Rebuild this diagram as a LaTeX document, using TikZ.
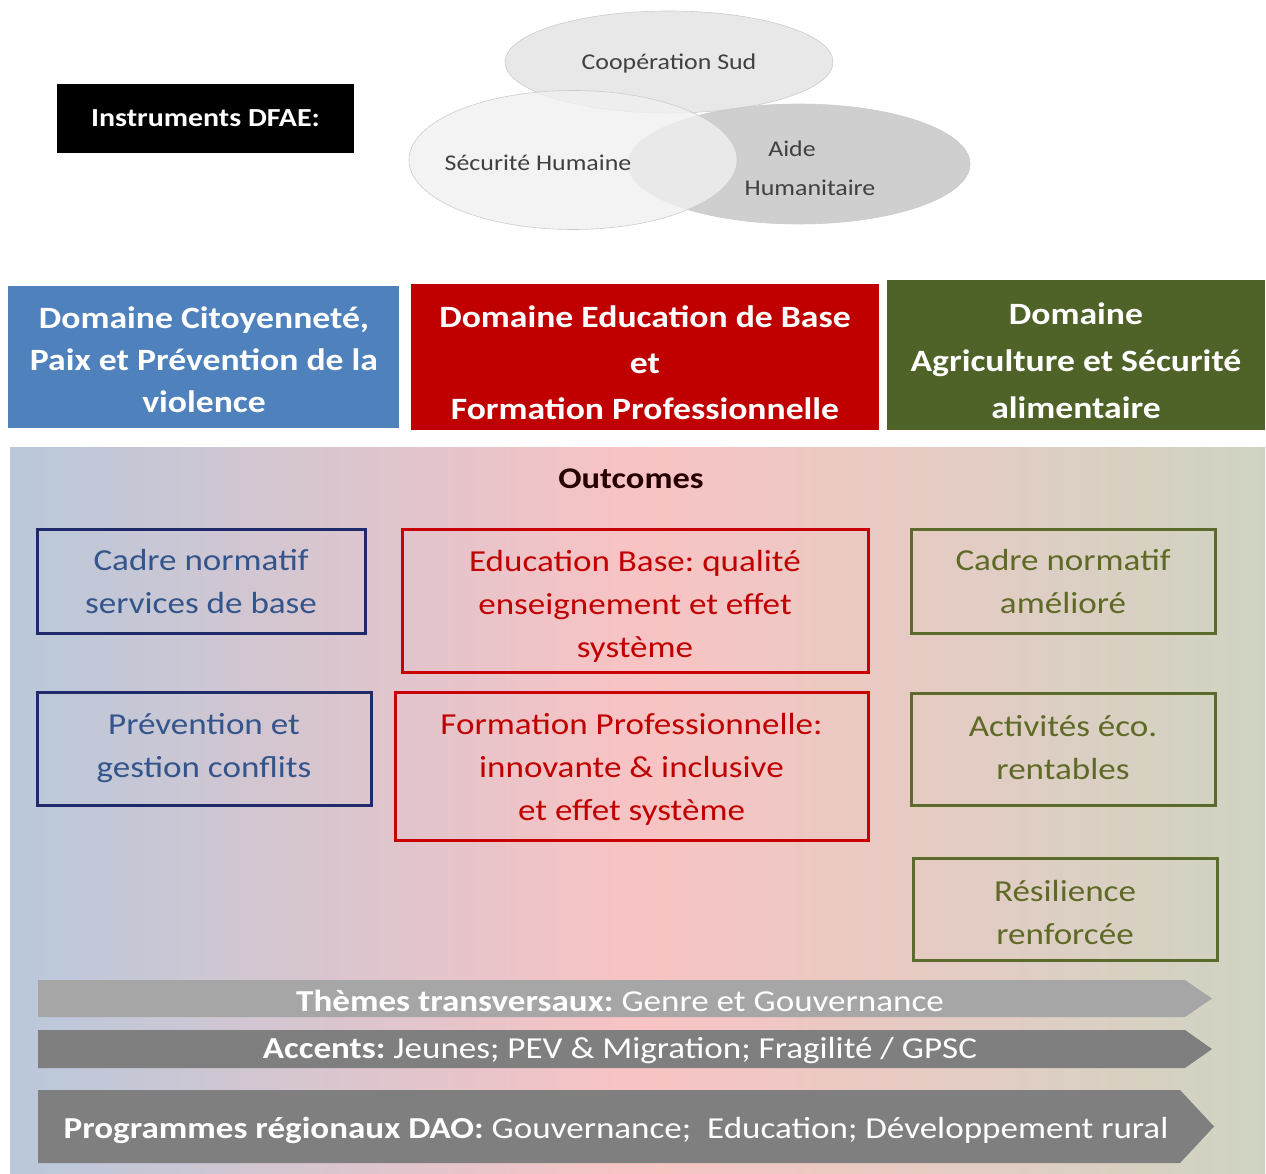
\documentclass[tikz,border=0pt]{standalone}
\usepackage{fontspec}
\setmainfont{Carlito}[FakeStretch=1.15]
\usetikzlibrary{shapes.geometric}
\frenchspacing
\definecolor{bgL}{HTML}{B9C8DA}
\definecolor{bgM}{HTML}{F9C3C4}
\definecolor{bgR}{HTML}{CFD4C2}
\definecolor{dblue}{HTML}{4F81BD}
\definecolor{dred}{HTML}{C00000}
\definecolor{dgreen}{HTML}{4F6228}
\definecolor{oblue}{HTML}{1F2A6B}
\definecolor{oblueT}{HTML}{34558B}
\definecolor{ored}{HTML}{C80000}
\definecolor{ogreen}{HTML}{5B6B2B}
\definecolor{ogreenT}{HTML}{5E6A26}
\definecolor{arrL}{HTML}{A6A6A6}
\definecolor{arrD}{HTML}{7F7F7F}
\tikzset{
  domtext/.style={text=white, font=\fontsize{31}{42}\selectfont\bfseries, align=center, inner sep=0},
  outbox/.style={draw, line width=3pt, inner sep=0, outer sep=0},
  outtext/.style={font=\fontsize{30.5}{43}\selectfont, align=center, inner sep=0},
  ell/.style={ellipse, inner sep=0, draw=black!20, line width=0.6pt},
  elltext/.style={font=\fontsize{22.5}{38}\selectfont, text=black!75, align=center, inner sep=0},
  arrtext/.style={font=\fontsize{30.5}{36}\selectfont, text=white, inner sep=0}
}
\begin{document}
\begin{tikzpicture}[x=1pt,y=-1pt]
\useasboundingbox (0,0) rectangle (1266,1174);
\fill[white] (0,0) rectangle (1266,1174);
% Instruments
\node[fill=black, minimum width=297pt, minimum height=69pt, inner sep=0, text=white,
  font=\fontsize{26}{30}\selectfont\bfseries] (instr) at (205.5,118.5) {Instruments DFAE:};
% ellipses
\node[ell, fill=black!9, minimum width=328pt, minimum height=102pt] (coop) at (669,62) {};
\node[ell, fill=black!22, fill opacity=0.85, minimum width=342pt, minimum height=120pt] (aide) at (799,164) {};
\node[ell, fill=black!6, fill opacity=0.8, minimum width=328pt, minimum height=139pt] (secu) at (573,160) {};
\node[elltext] (coopt) at (669,64) {Coopération Sud};
\node[elltext] (secut) at (538,163) {Sécurité Humaine};
\node[elltext] (aidet1) at (792,149) {Aide};
\node[elltext] (aidet2) at (810,188) {Humanitaire};
% domains
\node[fill=dblue, minimum width=391pt, minimum height=142pt, inner sep=0] (d1) at (203.5,357) {};
\node[domtext] (d1t) at (204,360) {Domaine Citoyenneté,\\Paix et Prévention de la\\violence};
\node[fill=dred, minimum width=468pt, minimum height=146pt, inner sep=0] (d2) at (645,357) {};
\node[domtext, font=\fontsize{31}{46}\selectfont\bfseries] (d2t) at (645,363) {Domaine Education de Base\\et\\Formation Professionnelle};
\node[fill=dgreen, minimum width=378pt, minimum height=150pt, inner sep=0] (d3) at (1076,355) {};
\node[domtext, font=\fontsize{31}{47}\selectfont\bfseries] (d3t) at (1076,361) {Domaine\\Agriculture et Sécurité\\alimentaire};
% background panel
\shade[left color=bgL, right color=bgR, middle color=bgM] (10,447) rectangle (1265,1174);
\node[font=\fontsize{30}{34}\selectfont\bfseries, text=black!85!red, inner sep=0] (outc) at (631,479) {Outcomes};
% outcome boxes
\node[outbox, draw=oblue, minimum width=328pt, minimum height=104pt] (b1) at (201,581) {};
\node[outtext, text=oblueT] (b1t) at (201,582) {Cadre normatif\\services de base};
\node[outbox, draw=oblue, minimum width=334pt, minimum height=113pt] (b2) at (204,748.5) {};
\node[outtext, text=oblueT] (b2t) at (204,748) {Prévention et\\gestion conflits};
\node[outbox, draw=ored, minimum width=466pt, minimum height=143pt] (b3) at (635,600.5) {};
\node[outtext, text=dred] (b3t) at (635,606) {Education Base: qualité\\enseignement et effet\\système};
\node[outbox, draw=ored, minimum width=473pt, minimum height=148pt] (b4) at (631.5,766) {};
\node[outtext, text=dred] (b4t) at (631.5,769) {Formation Professionnelle:\\innovante \& inclusive\\et effet système};
\node[outbox, draw=ogreen, minimum width=304pt, minimum height=104pt] (b5) at (1063,581) {};
\node[outtext, text=ogreenT] (b5t) at (1063,582) {Cadre normatif\\amélioré};
\node[outbox, draw=ogreen, minimum width=304pt, minimum height=112pt] (b6) at (1063,749) {};
\node[outtext, text=ogreenT] (b6t) at (1063,748) {Activités éco.\\rentables};
\node[outbox, draw=ogreen, minimum width=304pt, minimum height=102pt] (b7) at (1065,909) {};
\node[outtext, text=ogreenT] (b7t) at (1065,913) {Résilience\\renforcée};
% arrows
\fill[arrL] (38,980) -- (1185,980) -- (1212,998.5) -- (1185,1017) -- (38,1017) -- cycle;
\node[arrtext] (a1) at (620,1001) {\textbf{Thèmes transversaux:} Genre et Gouvernance};
\fill[arrD] (38,1030) -- (1185,1030) -- (1212,1049) -- (1185,1068) -- (38,1068) -- cycle;
\node[arrtext] (a2) at (620,1051) {\textbf{Accents:} Jeunes; PEV \& Migration; Fragilité / GPSC};
\fill[arrD] (38,1090) -- (1180,1090) -- (1214,1126.5) -- (1180,1163) -- (38,1163) -- cycle;
\node[arrtext] (a3) at (616,1130) {\textbf{Programmes régionaux DAO:} Gouvernance;\ \ Education; Développement rural};
\end{tikzpicture}
\end{document}
